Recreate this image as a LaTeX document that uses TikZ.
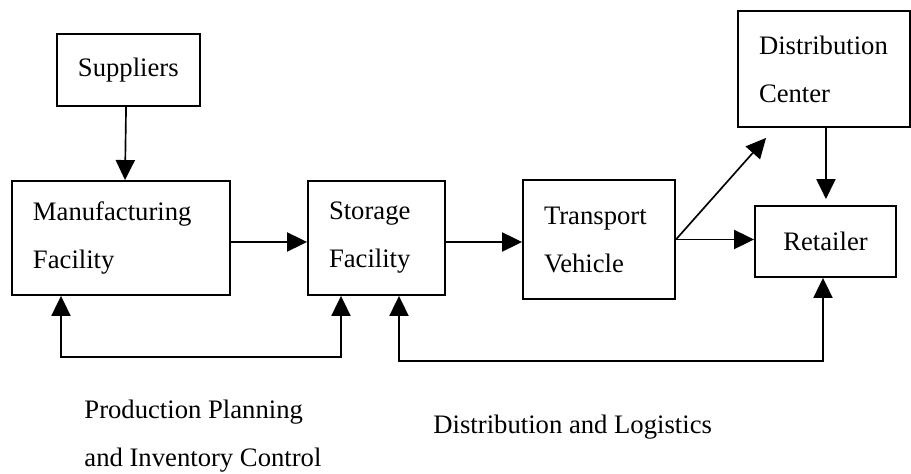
\documentclass[tikz,border=0pt]{standalone}
\usepackage{fontspec}
\setmainfont{Liberation Serif}
\usetikzlibrary{arrows.meta}
\hyphenpenalty=10000
\begin{document}
\begin{tikzpicture}[x=0.45pt,y=-0.45pt,
  every node/.style={font=\fontsize{12pt}{21.6pt}\selectfont},
  box/.style={draw, line width=0.85pt, rectangle, inner xsep=9.45pt, inner ysep=0pt, align=left},
  conn/.style={line width=0.75pt},
  arr/.style={conn, -{Triangle[length=9pt,width=8.6pt]}},
  arrtwo/.style={conn, {Triangle[length=9pt,width=8.6pt]}-{Triangle[length=9pt,width=8.6pt]}},
  lbl/.style={inner sep=0pt, align=left, anchor=west}]
\useasboundingbox (0,0) rectangle (911,474);
\fill[white] (0,0) rectangle (911,474);

\node[box, minimum width=64.35pt, minimum height=32.4pt, text width=45.45pt] (sup) at (128.5,70) {Suppliers};
\node[box, minimum width=98.1pt, minimum height=51.3pt, text width=79.2pt] (man) at (121,238) {Manufacturing\\Facility};
\node[box, minimum width=61.65pt, minimum height=51.3pt, text width=42.75pt] (sto) at (376.5,238) {Storage\\Facility};
\node[box, minimum width=68.4pt, minimum height=53.55pt, text width=49.5pt] (tra) at (599,239.5) {Transport\\Vehicle};
\node[box, minimum width=63.45pt, minimum height=31.95pt, text width=44.55pt, align=center] (ret) at (825.5,241.5) {Retailer};
\node[box, minimum width=77.4pt, minimum height=52.2pt, text width=58.5pt] (dc) at (824,69) {Distribution\\Center};

\node[lbl] (ppic) at (84,436.5) {Production Planning\\and Inventory Control};
\node[lbl] (dl) at (433,427) {Distribution and Logistics};

\coordinate (dctip) at ([xshift=13.05pt,yshift=-4.5pt]dc.south west);
\coordinate (fa) at (61,357);
\coordinate (fb) at (341,357);
\coordinate (fc) at (399,361);
\coordinate (fd) at (823,361);

\draw[arr] ([xshift=-1.1pt]sup.south) -- ([xshift=1.8pt]man.north);
\draw[arr] ([yshift=-1.8pt]man.east) -- ([yshift=-1.8pt]man.east -| sto.west);
\draw[arr] ([yshift=-1.8pt]sto.east) -- ([yshift=-1.8pt]sto.east -| tra.west);
\draw[arr] (tra.east) -- (tra.east -| ret.west);
\draw[arr] (tra.east) -- (dctip);
\draw[arr] ([xshift=0.9pt]dc.south) -- ([xshift=0.2pt,yshift=2.7pt]ret.north);
\draw[arrtwo] (man.south -| fa) -- (fa) -- (fb) -- (sto.south -| fb);
\draw[arrtwo] (sto.south -| fc) -- (fc) -- (fd) -- (ret.south -| fd);
\end{tikzpicture}
\end{document}
